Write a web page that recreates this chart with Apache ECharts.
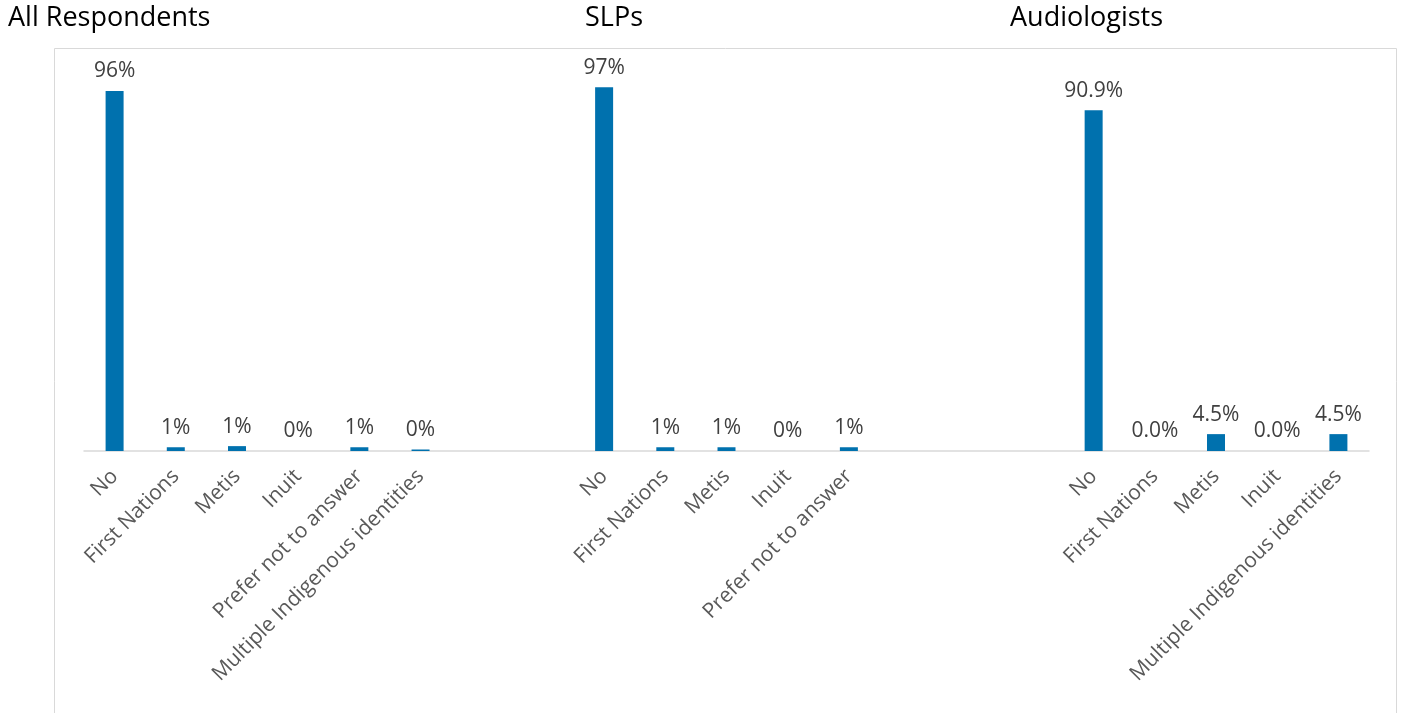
<!DOCTYPE html>
<html><head><meta charset="utf-8">
<script src="https://cdn.jsdelivr.net/npm/echarts@6/dist/echarts.min.js"></script>
<style>html,body{margin:0;padding:0;background:#fff}#c{width:1401px;height:713px}</style>
</head><body><div id="c"></div>
<script>
// Categories across the three panels (blank slots are spacing between groups)
const categories = [
  'No','First Nations','Metis','Inuit','Prefer not to answer','Multiple Indigenous identities',
  '','',
  'No','First Nations','Metis','Inuit','Prefer not to answer',
  '','','',
  'No','First Nations','Metis','Inuit','Multiple Indigenous identities'
];
const allRespondents = [96, 1, 1.3, 0, 1, 0.4];
const allLabels = ['96%','1%','1%','0%','1%','0%'];
const slps = [97, 1, 1, 0, 1];
const slpLabels = ['97%','1%','1%','0%','1%'];
const audiologists = [90.9, 0.0, 4.5, 0.0, 4.5];
const audLabels = ['90.9%','0.0%','4.5%','0.0%','4.5%'];
const groupTitles = ['All Respondents','SLPs','Audiologists'];

const values = [], labels = [];
allRespondents.forEach((v,i)=>{values.push(v);labels.push(allLabels[i]);});
values.push(null,null); labels.push('','');
slps.forEach((v,i)=>{values.push(v);labels.push(slpLabels[i]);});
values.push(null,null,null); labels.push('','','');
audiologists.forEach((v,i)=>{values.push(v);labels.push(audLabels[i]);});

const chart = echarts.init(document.getElementById('c'));
const font = '"Open Sans", sans-serif';
const tStyle = {fontFamily:font,fontSize:27,fontWeight:'normal',color:'#000'};
chart.setOption({
  animation:false,
  title: [
    {text:groupTitles[0], left:8, top:5, padding:0, textStyle:tStyle},
    {text:groupTitles[1], left:585, top:5, padding:0, textStyle:tStyle},
    {text:groupTitles[2], left:1010, top:5, padding:0, textStyle:tStyle}
  ],
  graphic:[{type:'rect',shape:{x:54.5,y:48.5,width:1342,height:700},style:{fill:'none',stroke:'#d9d9d9',lineWidth:1},silent:true}],
  grid:{left:84,right:32,top:76,bottom:262,containLabel:false},
  xAxis:{type:'category',data:categories,
    axisTick:{show:false},
    axisLine:{lineStyle:{color:'#d9d9d9',width:1.5}},
    axisLabel:{interval:0,rotate:45,margin:22,fontFamily:font,fontSize:21,color:'#595959'}
  },
  yAxis:{type:'value',min:0,max:100,show:false,splitLine:{show:false}},
  series:[{type:'bar',data:values,barWidth:18,itemStyle:{color:'#0071AE'},
    label:{show:true,position:'top',distance:9,fontFamily:font,fontSize:21,color:'#404040',
      formatter:p=>labels[p.dataIndex]}}]
});
</script></body></html>
